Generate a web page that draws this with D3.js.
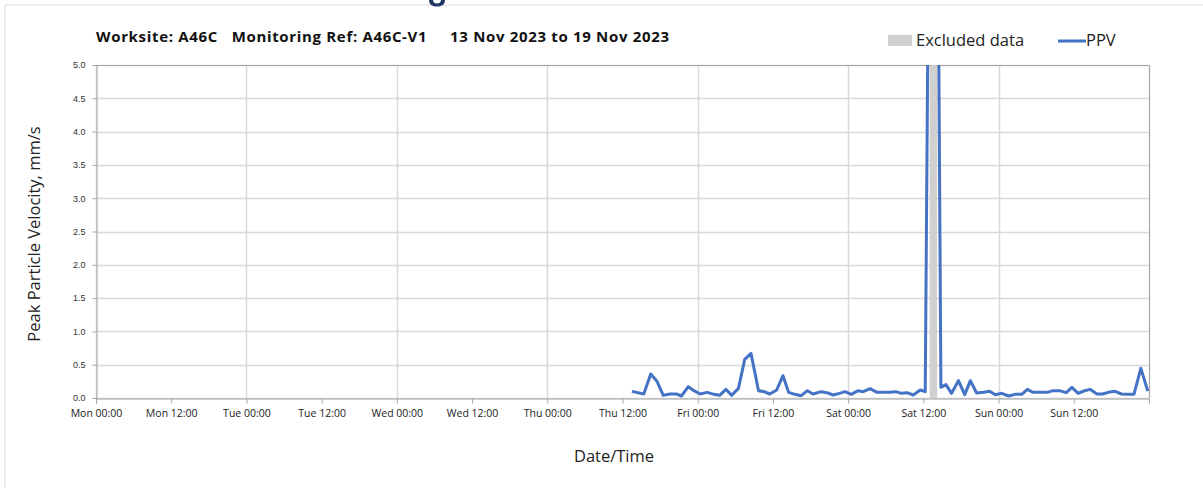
<!DOCTYPE html>
<html><head><meta charset="utf-8">
<script src="https://cdn.jsdelivr.net/npm/d3@7"></script>
<style>
html,body{margin:0;padding:0;background:#fff;}
svg{display:block;font-family:"Open Sans","Noto Sans",sans-serif;}
</style></head>
<body>
<svg id="chart" width="1203" height="488"></svg>
<script>
// ---- Data (hours from Mon 13 Nov 2023 00:00) ----
const tickHours = [0,12,24,36,48,60,72,84,96,108,120,132,144,156,168];
const tickLabels = ["Mon 00:00","Mon 12:00","Tue 00:00","Tue 12:00","Wed 00:00","Wed 12:00","Thu 00:00","Thu 12:00","Fri 00:00","Fri 12:00","Sat 00:00","Sat 12:00","Sun 00:00","Sun 12:00",""];
const yTicks = [0,0.5,1,1.5,2,2.5,3,3.5,4,4.5,5];
const ppvHours = [85.5,87.4,88.5,89.5,90.5,91.6,92.6,93.4,94.5,95.4,96.4,97.5,98.6,99.5,100.5,101.4,102.5,103.5,104.5,105.7,106.6,107.5,108.6,109.6,110.5,111.5,112.5,113.5,114.4,115.7,116.6,117.6,118.6,119.5,120.5,121.6,122.4,123.5,124.6,125.6,126.7,127.6,128.5,129.4,130.4,131.5,132.3,133.0,134.2,134.8,135.6,136.5,137.6,138.6,139.5,140.5,141.6,142.6,143.5,144.5,145.6,146.6,147.7,148.6,149.5,150.8,151.8,152.7,153.7,154.8,155.7,156.7,157.6,158.6,159.7,160.6,161.5,162.6,163.6,164.7,165.6,166.7,167.8];
const ppvValues = [0.10,0.06,0.36,0.25,0.04,0.06,0.06,0.03,0.17,0.11,0.06,0.085,0.055,0.04,0.13,0.04,0.145,0.58,0.67,0.11,0.095,0.06,0.12,0.335,0.085,0.055,0.035,0.11,0.06,0.095,0.08,0.045,0.07,0.095,0.055,0.11,0.095,0.14,0.085,0.085,0.085,0.095,0.07,0.08,0.045,0.12,0.095,9.0,9.0,0.16,0.20,0.07,0.26,0.05,0.26,0.075,0.085,0.10,0.05,0.07,0.03,0.055,0.055,0.13,0.085,0.085,0.085,0.11,0.11,0.08,0.16,0.07,0.105,0.13,0.06,0.06,0.085,0.10,0.06,0.055,0.055,0.445,0.105];
const excludedStart = [133.0];
const excludedEnd = [134.2];

// ---- Layout ----
const svg = d3.select("#chart");
const L = 96, R = 1149, T = 65, B = 398;
const x = d3.scaleLinear().domain([0,168]).range([L,R]);
const y = d3.scaleLinear().domain([0,5]).range([B,T]);

// frame
svg.append("path").attr("d","M5,488V5H1203").attr("fill","none").attr("stroke","#dcdcdc").attr("stroke-width",1);
// clipped heading fragment above (descender only visible)
svg.append("path").attr("d","M429,0 C429,5 433,6.5 437,6.5 C441,6.5 445,5 445,0 L441,0 C441,2.5 439,3.5 437,3.5 C435,3.5 433,2.5 433,0 Z")
  .attr("fill","#1f3864");

// grid
const g = svg.append("g");
g.selectAll(".hg").data(yTicks).join("line")
  .attr("x1",L).attr("x2",R).attr("y1",d=>Math.round(y(d))+0.5).attr("y2",d=>Math.round(y(d))+0.5)
  .attr("stroke","#d9d9d9").attr("stroke-width",1.5);
g.selectAll(".vg").data(tickHours.filter(h=>h%24===0)).join("line")
  .attr("x1",d=>Math.round(x(d))+0.5).attr("x2",d=>Math.round(x(d))+0.5).attr("y1",T).attr("y2",B)
  .attr("stroke","#d9d9d9").attr("stroke-width",1.5);
// top/right border
svg.append("path").attr("d",`M${L},${T+0.5}H${R+0.5}V${B}`).attr("fill","none").attr("stroke","#a6a6a6").attr("stroke-width",1);

// clip
svg.append("clipPath").attr("id","clip").append("rect").attr("x",L).attr("y",T).attr("width",R-L).attr("height",B-T);

// excluded band
svg.append("g").attr("clip-path","url(#clip)").selectAll("rect").data(excludedStart).join("rect")
  .attr("x",(d,i)=>x(d)).attr("width",(d,i)=>x(excludedEnd[i])-x(d))
  .attr("y",T).attr("height",B-T).attr("fill","#d0d0d0");

// line
const pts = ppvHours.map((h,i)=>[h,ppvValues[i]]);
svg.append("path").datum(pts).attr("clip-path","url(#clip)")
  .attr("fill","none").attr("stroke","#4472c4").attr("stroke-width",3).attr("stroke-linejoin","round")
  .attr("d",d3.line().x(d=>x(d[0])).y(d=>y(d[1])));

// axes
const xAxis = d3.axisBottom(x).tickValues(tickHours).tickFormat((d,i)=>tickLabels[i]).tickSize(5).tickPadding(6);
const xa = svg.append("g").attr("transform",`translate(0,${B+0.5})`).call(xAxis);
xa.select(".domain").attr("stroke","#a6a6a6");
xa.selectAll(".tick line").attr("stroke","#a6a6a6");
xa.selectAll("text").attr("font-size",10.5).attr("fill","#222").attr("font-family","'Open Sans',sans-serif");

const yAxis = d3.axisLeft(y).tickValues(yTicks).tickFormat(d3.format(".1f")).tickSize(4).tickPadding(7);
const ya = svg.append("g").attr("transform",`translate(${L+0.5},0)`).call(yAxis);
ya.select(".domain").attr("stroke","#a6a6a6");
ya.selectAll(".tick line").attr("stroke","#a6a6a6");
ya.selectAll("text").attr("font-size",9).attr("fill","#333");

// titles
svg.append("text").attr("x",96).attr("y",42).attr("font-size",15).attr("font-weight","bold").attr("fill","#111")
  .attr("textLength",573).attr("lengthAdjust","spacing")
  .attr("xml:space","preserve").style("white-space","pre")
  .text("Worksite: A46C   Monitoring Ref: A46C-V1     13 Nov 2023 to 19 Nov 2023");
svg.append("text").attr("x",614).attr("y",462).attr("text-anchor","middle").attr("font-size",16.5).attr("fill","#222").text("Date/Time");
svg.append("text").attr("transform","translate(40,234) rotate(-90)").attr("text-anchor","middle").attr("font-size",16.5).attr("fill","#222").text("Peak Particle Velocity, mm/s");

// legend
svg.append("rect").attr("x",888).attr("y",35).attr("width",24).attr("height",11).attr("fill","#d0d0d0");
svg.append("text").attr("x",916).attr("y",46).attr("font-size",16.5).attr("fill","#222").text("Excluded data");
svg.append("line").attr("x1",1058).attr("x2",1086).attr("y1",41).attr("y2",41).attr("stroke","#4472c4").attr("stroke-width",3);
svg.append("text").attr("x",1086).attr("y",46).attr("font-size",16.5).attr("fill","#222").text("PPV");
</script>
</body></html>
